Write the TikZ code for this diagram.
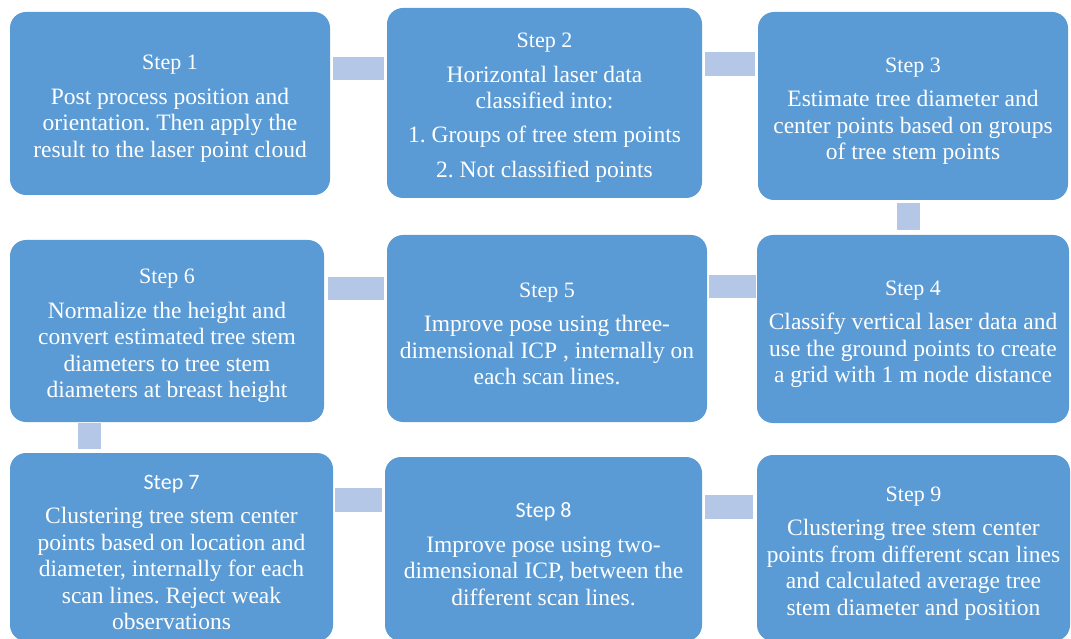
\documentclass[tikz,border=0pt]{standalone}
\usepackage{fontspec}
\setmainfont{Liberation Serif}
\newfontfamily\calib{Carlito}
\definecolor{boxblue}{RGB}{91,155,213}
\definecolor{barblue}{RGB}{180,199,231}
\newcommand\steptitle[1]{{\fontsize{22}{26.5}\selectfont\rule{0pt}{25pt}#1}}
\frenchspacing

\begin{document}
\begin{tikzpicture}[x=1pt,y=-1pt,
        stepbox/.style={fill=boxblue, rounded corners=16pt, inner sep=0pt, align=center,
            text=white, font=\fontsize{23.5}{26.5}\selectfont},
        bar/.style={draw=barblue, line width=23.5pt, shorten <=3pt, shorten >=3pt}]
        \useasboundingbox (0,0) rectangle (1071,639);
        \clip (0,0) rectangle (1071,639);
        % first row
        \node[stepbox, minimum width=320pt, minimum height=183pt] (s1) at (170,103.5)
            {\steptitle{Step 1}\\[8pt] Post process position and\\ orientation. Then apply the\\ result to the laser point cloud};
        \node[stepbox, minimum width=315pt, minimum height=190pt] (s2) at (544.5,103)
            {\steptitle{Step 2}\\[8pt] Horizontal laser data\\ classified into:\\[7pt] 1.\ Groups of tree stem points\\[9pt] 2.\ Not classified points};
        \node[stepbox, minimum width=310pt, minimum height=188pt] (s3) at (913,106)
            {\steptitle{Step 3}\\[8pt] Estimate tree diameter and\\ center points based on groups\\ of tree stem points};
        % second row
        \node[stepbox, minimum width=312pt, minimum height=188pt] (s4) at (913,329)
            {\steptitle{Step 4}\\[8pt] Classify vertical laser data and\\ use the ground points to create\\ a grid with 1 m node distance};
        \node[stepbox, minimum width=320pt, minimum height=187pt] (s5) at (547,328.5)
            {\steptitle{Step 5}\\[8pt] Improve pose using three-\\ dimensional ICP , internally on\\ each scan lines.};
        \node[stepbox, minimum width=314pt, minimum height=182pt] (s6) at (167,331)
            {\steptitle{Step 6}\\[8pt] Normalize the height and\\ convert estimated tree stem\\ diameters to tree stem\\ diameters at breast height};
        % third row
        \node[stepbox, minimum width=323pt, minimum height=188pt] (s7) at (171.5,547)
            {\steptitle{\calib Step 7}\\[8pt] Clustering tree stem center\\ points based on location and\\ diameter, internally for each\\ scan lines. Reject weak\\ observations};
        \node[stepbox, minimum width=317pt, minimum height=184pt] (s8) at (543.5,549)
            {\steptitle{\calib Step 8}\\[8pt] Improve pose using two-\\ dimensional ICP, between the\\ different scan lines.};
        \node[stepbox, minimum width=313pt, minimum height=186pt] (s9) at (913.5,548)
            {\steptitle{Step 9}\\[8pt] Clustering tree stem center\\ points from different scan lines\\ and calculated average tree\\ stem diameter and position};
        % bars between the steps
        \draw[bar] ([yshift=35pt]s1.east) -- ([yshift=34.5pt]s2.west);
        \draw[bar] ([yshift=39pt]s2.east) -- ([yshift=42pt]s3.west);
        \draw[bar, shorten >=5pt] ([xshift=-4.5pt]s3.south) -- ([xshift=-4.5pt]s4.north);
        \draw[bar, shorten <=1pt, shorten >=2pt] ([yshift=42.5pt]s4.west) -- ([yshift=42pt]s5.east);
        \draw[bar, shorten >=4pt] ([yshift=40pt]s5.west) -- ([yshift=42.5pt]s6.east);
        \draw[bar, shorten <=1pt, shorten >=4pt] ([xshift=-77.5pt]s6.south) -- ([xshift=-82pt]s7.north);
        \draw[bar, shorten <=2pt] ([yshift=47pt]s7.east) -- ([yshift=49pt]s8.west);
        \draw[bar, shorten >=4pt] ([yshift=42pt]s8.east) -- ([yshift=41pt]s9.west);
\end{tikzpicture}
\end{document}
